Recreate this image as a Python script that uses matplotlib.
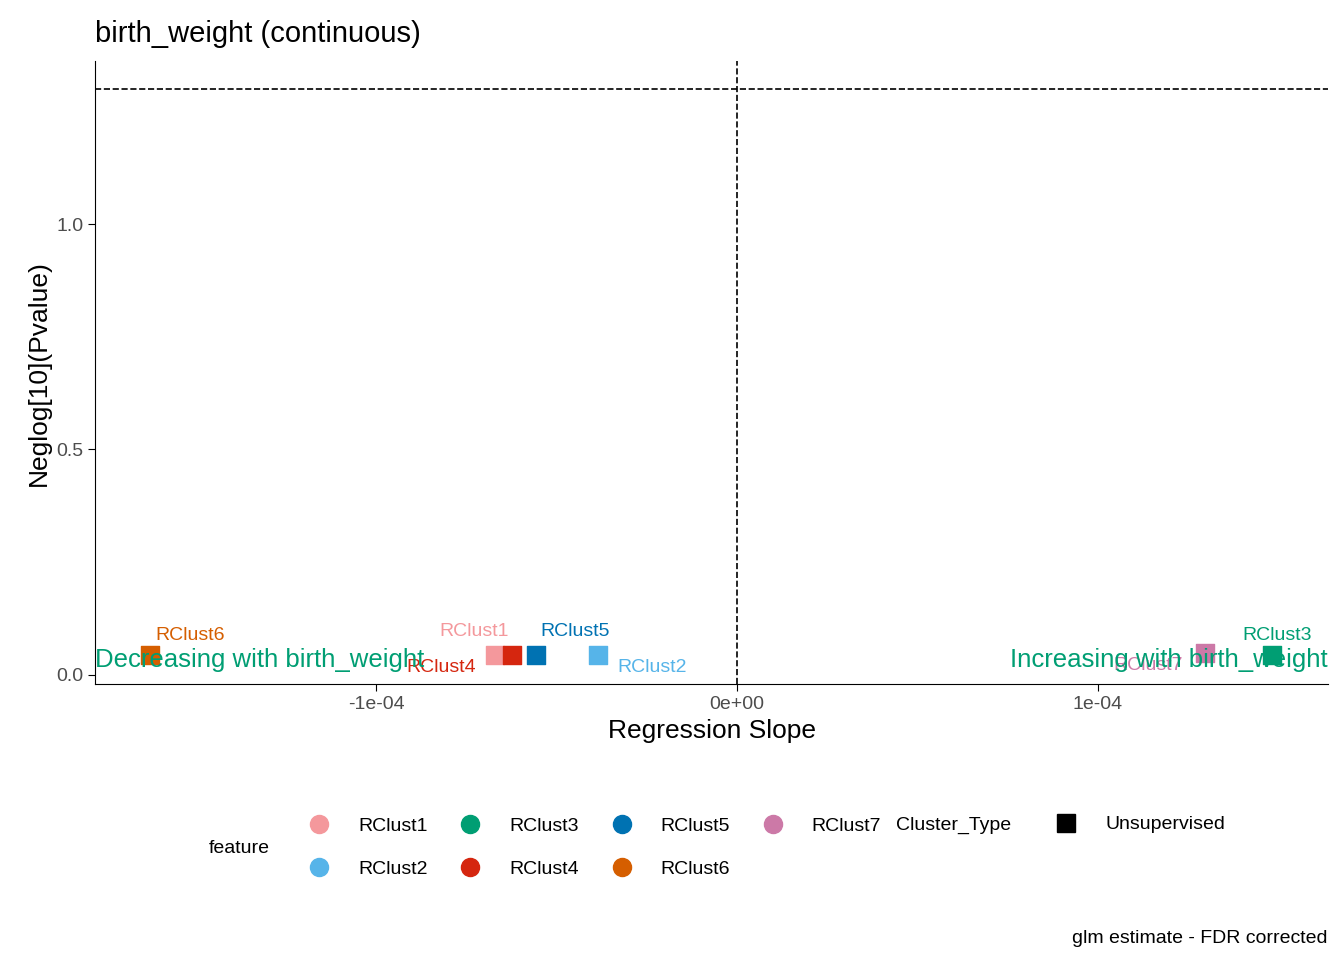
import numpy as np
import matplotlib
matplotlib.use("Agg")
import matplotlib.pyplot as plt
from matplotlib.lines import Line2D

plt.rcParams['font.family'] = ['Liberation Sans', 'DejaVu Sans']

# ── data ─────────────────────────────────────────────────────────
features = ["RClust1", "RClust2", "RClust3", "RClust4", "RClust5", "RClust6", "RClust7"]
slope = [-0.670e-4, -0.385e-4, 1.482e-4, -0.623e-4, -0.557e-4, -1.626e-4, 1.296e-4]
neglogp = [0.044, 0.044, 0.044, 0.044, 0.044, 0.044, 0.049]
colors = {"RClust1": "#F4989C", "RClust2": "#56B4E9", "RClust3": "#009E73",
          "RClust4": "#D5260F", "RClust5": "#0072B2", "RClust6": "#D55E00",
          "RClust7": "#CC79A7"}
# label offsets in points (repelled labels)
offsets = {"RClust1": (-15, 17), "RClust2": (39, -9), "RClust3": (4, 14),
           "RClust4": (-51, -9), "RClust5": (28, 17), "RClust6": (29, 14),
           "RClust7": (-41, -9)}

fig = plt.figure(figsize=(13.44, 9.6), dpi=100)
ax = fig.add_axes([0.071, 0.287, 0.917, 0.649])

for f, x, y in zip(features, slope, neglogp):
    ax.scatter(x, y, marker="s", s=170, color=colors[f], zorder=3)
    ax.annotate(f, (x, y), xytext=offsets[f], textcoords="offset points",
                ha="center", va="center", fontsize=14, color=colors[f])

ax.axhline(-np.log10(0.05), color="black", linestyle="--", linewidth=1.2)
ax.axvline(0, color="black", linestyle="--", linewidth=1.2)

ax.set_xlim(-1.778e-4, 1.637e-4)
ax.set_ylim(-0.022, 1.362)
ax.text(-1.778e-4, 0.033, "Decreasing with birth_weight", color="#009E73",
        fontsize=18.5, ha="left", va="center")
ax.text(1.637e-4, 0.033, "Increasing with birth_weight", color="#009E73",
        fontsize=18.5, ha="right", va="center")

ax.set_xticks([-1e-4, 0, 1e-4])
ax.set_xticklabels(["-1e-04", "0e+00", "1e-04"])
ax.set_yticks([0, 0.5, 1.0])
ax.set_yticklabels(["0.0", "0.5", "1.0"])
ax.tick_params(labelsize=14, labelcolor="#4D4D4D", color="black", length=5)
for s in ["top", "right"]:
    ax.spines[s].set_visible(False)
ax.set_xlabel("Regression Slope", fontsize=19)
ax.set_ylabel("Neglog[10](Pvalue)", fontsize=19)
ax.set_title("birth_weight (continuous)", fontsize=21, loc="left", pad=14)

# ── legends ──────────────────────────────────────────────────────
handles = [Line2D([], [], marker="o", linestyle="", markersize=13,
                  color=colors[f], label=f) for f in features]
fig.text(0.155, 0.116, "feature", fontsize=14, va="center")
fig.legend(handles=handles, loc="center left", bbox_to_anchor=(0.21, 0.117),
           ncol=4, frameon=False, fontsize=14, handletextpad=1.0,
           columnspacing=1.2, labelspacing=1.3)
fig.text(0.667, 0.140, "Cluster_Type", fontsize=14, va="center")
sq = Line2D([], [], marker="s", linestyle="", markersize=13, color="black",
            label="Unsupervised")
fig.legend(handles=[sq], loc="center left", bbox_to_anchor=(0.766, 0.141),
           frameon=False, fontsize=14, handletextpad=1.0)

fig.text(0.988, 0.018, "glm estimate - FDR corrected", fontsize=14, ha="right")

fig.savefig("out.png", dpi=100)
